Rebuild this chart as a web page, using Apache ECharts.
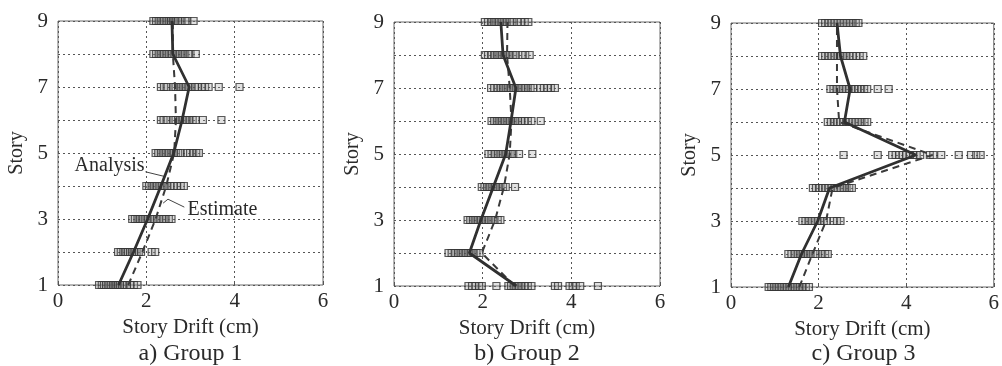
<!DOCTYPE html>
<html><head><meta charset="utf-8">
<script src="https://cdn.jsdelivr.net/npm/echarts@6/dist/echarts.min.js"></script>
<style>html,body{margin:0;padding:0;background:#fff}#c{width:1002px;height:366px}</style>
</head><body><div id="c"></div>
<script>
const stories = [1,2,3,4,5,6,7,8,9];
const xTicks = [0,2,4,6];
const panelTitles = ['a) Group 1','b) Group 2','c) Group 3'];
const xName = 'Story Drift (cm)';
const yName = 'Story';

const g1Analysis = [1.37,1.71,2.03,2.33,2.62,2.81,2.97,2.60,2.58];
const g1Estimate = [1.59,1.91,2.21,2.45,2.63,2.67,2.65,2.60,2.60];
const g2Analysis = [2.76,1.70,1.96,2.24,2.52,2.64,2.75,2.46,2.41];
const g2Estimate = [2.72,1.98,2.28,2.48,2.61,2.65,2.61,2.55,2.56];
const g3Analysis = [1.31,1.61,1.98,2.25,4.22,2.59,2.72,2.50,2.42];
const g3Estimate = [1.56,1.86,2.17,2.32,4.60,2.47,2.42,2.42,2.42];

const g1Records = [
 [0.93,0.99,1.04,1.09,1.14,1.19,1.24,1.28,1.32,1.36,1.40,1.45,1.50,1.56,1.63,1.72,1.80],
 [1.36,1.42,1.48,1.53,1.58,1.63,1.68,1.73,1.78,1.83,1.88,2.12,2.20],
 [1.68,1.74,1.80,1.86,1.92,1.98,2.04,2.10,2.17,2.24,2.30,2.37,2.44,2.51,2.57],
 [2.00,2.06,2.12,2.18,2.24,2.30,2.36,2.42,2.48,2.55,2.62,2.70,2.78,2.85],
 [2.21,2.27,2.33,2.39,2.45,2.51,2.57,2.62,2.67,2.72,2.78,2.92,2.99,3.06,3.13,3.19],
 [2.33,2.39,2.46,2.60,2.66,2.72,2.77,2.82,2.87,2.92,2.98,3.05,3.12,3.28,3.70],
 [2.33,2.40,2.46,2.60,2.66,2.72,2.78,2.84,2.90,2.96,3.03,3.10,3.16,3.26,3.33,3.41,3.64,4.11],
 [2.16,2.22,2.28,2.34,2.40,2.46,2.52,2.58,2.64,2.70,2.76,2.82,2.88,2.95,3.00,3.12],
 [2.16,2.22,2.28,2.34,2.40,2.46,2.52,2.56,2.60,2.64,2.68,2.72,2.80,2.88,2.93,3.07]
];
const g2Records = [
 [1.68,1.76,1.84,1.92,1.98,2.31,2.58,2.64,2.70,2.76,2.82,2.88,2.95,3.02,3.10,3.63,3.70,3.96,4.03,4.10,4.20,4.60],
 [1.23,1.30,1.37,1.44,1.50,1.56,1.62,1.68,1.74,1.80,1.86,1.93],
 [1.66,1.72,1.78,1.84,1.90,1.96,2.02,2.08,2.14,2.20,2.27,2.34,2.40],
 [1.98,2.04,2.10,2.16,2.22,2.28,2.34,2.40,2.46,2.52,2.73],
 [2.13,2.20,2.27,2.34,2.40,2.46,2.52,2.58,2.63,2.69,2.82,3.12],
 [2.20,2.26,2.32,2.38,2.44,2.50,2.56,2.62,2.68,2.74,2.80,2.88,2.95,3.02,3.10,3.31],
 [2.19,2.26,2.33,2.40,2.46,2.52,2.58,2.64,2.70,2.76,2.82,2.88,2.95,3.02,3.08,3.14,3.30,3.38,3.46,3.54,3.63],
 [2.05,2.12,2.19,2.26,2.32,2.38,2.44,2.50,2.56,2.62,2.68,2.75,2.88,2.96,3.06],
 [2.05,2.12,2.19,2.25,2.31,2.37,2.43,2.49,2.55,2.61,2.67,2.78,2.86,2.95,3.03]
];
const g3Records = [
 [0.86,0.92,0.98,1.04,1.10,1.16,1.22,1.28,1.34,1.40,1.46,1.52,1.58,1.64,1.71,1.78],
 [1.31,1.38,1.45,1.52,1.58,1.64,1.70,1.76,1.82,1.88,1.95,2.08,2.15,2.21],
 [1.63,1.70,1.77,1.84,1.91,1.98,2.05,2.12,2.19,2.34,2.42,2.50],
 [1.87,1.94,2.01,2.08,2.15,2.22,2.29,2.36,2.43,2.50,2.57,2.64,2.70,2.76],
 [2.57,3.35,3.68,3.76,3.84,3.92,4.00,4.08,4.16,4.24,4.32,4.54,4.62,4.80,5.20,5.48,5.60,5.70],
 [2.21,2.28,2.35,2.42,2.49,2.56,2.63,2.70,2.77,2.84,2.91,2.98,3.05,3.11],
 [2.27,2.34,2.41,2.48,2.55,2.62,2.69,2.76,2.83,2.90,2.97,3.04,3.11,3.35,3.60],
 [2.08,2.15,2.22,2.29,2.36,2.43,2.50,2.57,2.64,2.71,2.78,2.86,2.94,3.02],
 [2.08,2.15,2.22,2.29,2.36,2.43,2.50,2.57,2.64,2.71,2.78,2.85,2.91]
];

// annotation anchors in data coordinates (panel 1)
const analysisLabel = {text:'Analysis', at:[1.96,4.6]};
const analysisLeader = [[1.98,4.43],[2.44,4.28]];
const estimateLabel = {text:'Estimate', at:[2.93,3.27]};
const estimateLeader = [[2.38,3.48],[2.49,3.6],[2.86,3.36]];

const FONT = '"Liberation Serif","Times New Roman",serif';
const TXT = '#2a2a2a';
const grids = [
  {left:58, top:21, width:265, height:264},
  {left:394, top:22, width:266, height:264},
  {left:731, top:23, width:265, height:264}
];
const groups = [
  [g1Analysis,g1Estimate,g1Records],
  [g2Analysis,g2Estimate,g2Records],
  [g3Analysis,g3Estimate,g3Records]
];

const option = {
  backgroundColor:'#fff',
  animation:false,
  grid: grids.map(g=>Object.assign({show:true, borderColor:'#6a6a6a', borderWidth:1, containLabel:false}, g)),
  xAxis: grids.map((g,i)=>({
    gridIndex:i, type:'value', min:0, max:6, interval:2,
    name:xName, nameLocation:'middle', nameGap:26,
    nameTextStyle:{fontFamily:FONT, fontSize:21, color:TXT},
    axisLine:{show:false},
    axisTick:{show:true, inside:true, length:4, lineStyle:{color:'#555'}},
    axisLabel:{fontFamily:FONT, fontSize:21, color:TXT, margin:6,
      formatter:v=>xTicks.includes(v)?String(v):''},
    splitLine:{show:true, lineStyle:{color:'#555', type:[2,3], width:1}}
  })),
  yAxis: grids.map((g,i)=>({
    gridIndex:i, type:'value', min:1, max:9, interval:1,
    name:yName, nameLocation:'middle', nameGap:31, nameRotate:90,
    nameTextStyle:{fontFamily:FONT, fontSize:20, color:TXT},
    axisLine:{show:false},
    axisTick:{show:false},
    axisLabel:{fontFamily:FONT, fontSize:21, color:TXT, margin:10,
      formatter:v=>(v%2===1)?String(v):''},
    splitLine:{show:true, lineStyle:{color:'#555', type:[2,3], width:1}}
  })),
  series: [],
  graphic: []
};

groups.forEach((grp,i)=>{
  const [ana,est,rec] = grp;
  const pts = [];
  rec.forEach((row,k)=>row.forEach(v=>pts.push([v, stories[k]])));
  option.series.push({
    type:'scatter', xAxisIndex:i, yAxisIndex:i, data:pts,
    symbol:'rect', symbolSize:[7,7],
    itemStyle:{color:'rgba(150,150,150,0.35)', borderColor:'#333', borderWidth:1.2},
    silent:true
  });
  option.series.push({
    type:'line', xAxisIndex:i, yAxisIndex:i,
    data: est.map((v,k)=>[v, stories[k]]),
    showSymbol:false, lineStyle:{color:'#3a3a3a', width:2, type:[7,5]}, silent:true
  });
  option.series.push({
    type:'line', xAxisIndex:i, yAxisIndex:i,
    data: ana.map((v,k)=>[v, stories[k]]),
    showSymbol:false, lineStyle:{color:'#303030', width:2.8}, silent:true
  });
});

const chart = echarts.init(document.getElementById('c'), null, {renderer:'canvas'});
chart.setOption(option);

const px = (p)=>chart.convertToPixel({gridIndex:0}, p);
const gfx = [];
grids.forEach((g,i)=>{
  gfx.push({type:'text', x:g.left+g.width/2, y:354,
    style:{text:panelTitles[i], fontFamily:FONT, fontSize:24, fill:TXT, textAlign:'center', textVerticalAlign:'middle'}});
});
const a = px(analysisLabel.at);
gfx.push({type:'text', x:a[0], y:a[1], style:{text:analysisLabel.text, fontFamily:FONT, fontSize:20, fill:TXT, textAlign:'right', textVerticalAlign:'middle'}});
const e = px(estimateLabel.at);
gfx.push({type:'text', x:e[0], y:e[1], style:{text:estimateLabel.text, fontFamily:FONT, fontSize:20, fill:TXT, textAlign:'left', textVerticalAlign:'middle'}});
gfx.push({type:'polyline', shape:{points:analysisLeader.map(px)}, style:{stroke:'#444', lineWidth:1, fill:null}});
gfx.push({type:'polyline', shape:{points:estimateLeader.map(px)}, style:{stroke:'#444', lineWidth:1, fill:null}});
chart.setOption({graphic:gfx});
</script>
</body></html>
